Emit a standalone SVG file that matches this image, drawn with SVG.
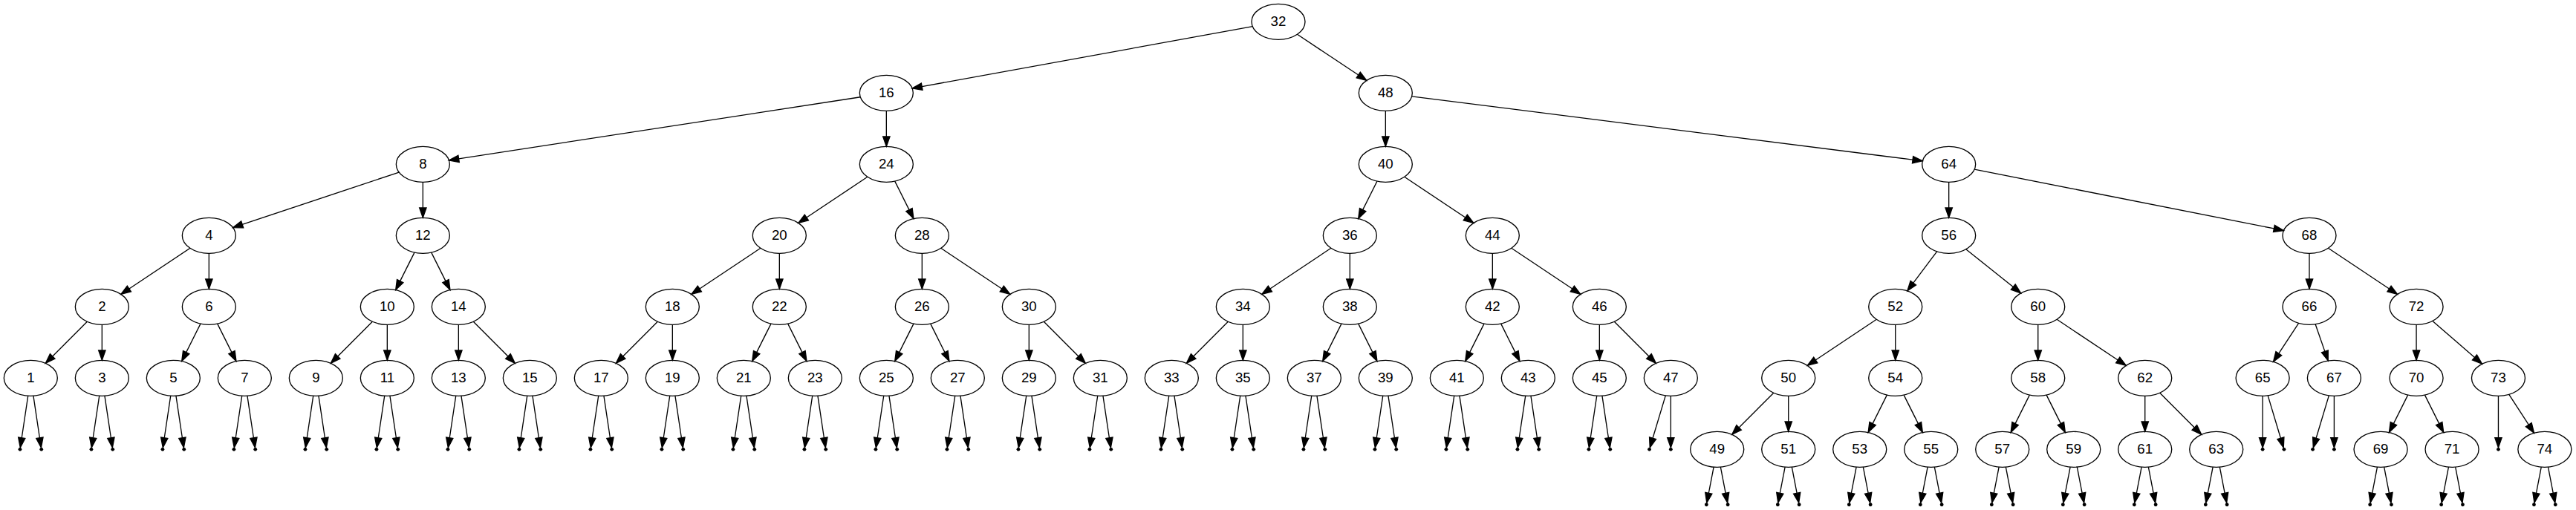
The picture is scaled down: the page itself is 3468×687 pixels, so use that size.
<svg xmlns="http://www.w3.org/2000/svg" width="3468" height="687" viewBox="0 0 3468 687">
<style>
.n ellipse{fill:none;stroke:#000;stroke-width:1}
.n text{font-family:"Liberation Sans",Arial,Helvetica,sans-serif;font-size:14px;text-anchor:middle;fill:#000}
.e{stroke:#000;stroke-width:1;fill:none;marker-end:url(#ah)}
.p circle{fill:#000;stroke:none}
</style>
<defs>
<marker id="ah" markerUnits="userSpaceOnUse" markerWidth="12" markerHeight="10" refX="0" refY="0" orient="auto" overflow="visible"><path d="M0,-3.5L10,0L0,3.5Z" fill="#000" stroke="#000" stroke-width="1"/></marker>
</defs>
<rect width="3468" height="687" fill="#fff"/>
<g transform="scale(1.333333)">
<g id="edges">
<line class="e" x1="1264.70" y1="26.74" x2="930.89" y2="87.47"/>
<line class="e" x1="1309.86" y1="34.71" x2="1371.56" y2="75.75"/>
<line class="e" x1="868.69" y1="98.05" x2="463.19" y2="160.43"/>
<line class="e" x1="895" y1="112" x2="895" y2="138"/>
<line class="e" x1="1399" y1="112" x2="1399" y2="138"/>
<line class="e" x1="1425.53" y1="97.36" x2="1931.30" y2="161.39"/>
<line class="e" x1="402.85" y1="174.05" x2="244.64" y2="226.79"/>
<line class="e" x1="427" y1="184" x2="427" y2="210"/>
<line class="e" x1="875.91" y1="178.73" x2="814.41" y2="219.73"/>
<line class="e" x1="903.54" y1="183.08" x2="917.99" y2="211.98"/>
<line class="e" x1="1390.46" y1="183.08" x2="1376.01" y2="211.98"/>
<line class="e" x1="1418.09" y1="178.73" x2="1479.59" y2="219.73"/>
<line class="e" x1="1967.75" y1="184" x2="1967.75" y2="210"/>
<line class="e" x1="1993.64" y1="171.12" x2="2296.06" y2="230.94"/>
<line class="e" x1="191.91" y1="250.73" x2="130.41" y2="291.73"/>
<line class="e" x1="211" y1="256" x2="211" y2="282"/>
<line class="e" x1="418.46" y1="255.08" x2="404.01" y2="283.98"/>
<line class="e" x1="435.54" y1="255.08" x2="449.99" y2="283.98"/>
<line class="e" x1="767.91" y1="250.73" x2="706.41" y2="291.73"/>
<line class="e" x1="787" y1="256" x2="787" y2="282"/>
<line class="e" x1="931" y1="256" x2="931" y2="282"/>
<line class="e" x1="950.09" y1="250.73" x2="1011.59" y2="291.73"/>
<line class="e" x1="1343.91" y1="250.73" x2="1282.41" y2="291.73"/>
<line class="e" x1="1363" y1="256" x2="1363" y2="282"/>
<line class="e" x1="1507" y1="256" x2="1507" y2="282"/>
<line class="e" x1="1526.09" y1="250.73" x2="1587.59" y2="291.73"/>
<line class="e" x1="1955.68" y1="254.10" x2="1931.86" y2="285.89"/>
<line class="e" x1="1985.04" y1="251.83" x2="2032.70" y2="289.93"/>
<line class="e" x1="2331.75" y1="256" x2="2331.75" y2="282"/>
<line class="e" x1="2350.85" y1="250.73" x2="2412.38" y2="291.73"/>
<line class="e" x1="88.02" y1="324.98" x2="53.05" y2="359.95"/>
<line class="e" x1="103" y1="328" x2="103" y2="354"/>
<line class="e" x1="202.46" y1="327.08" x2="188.01" y2="355.98"/>
<line class="e" x1="219.54" y1="327.08" x2="233.99" y2="355.98"/>
<line class="e" x1="376.02" y1="324.98" x2="341.05" y2="359.95"/>
<line class="e" x1="391" y1="328" x2="391" y2="354"/>
<line class="e" x1="463" y1="328" x2="463" y2="354"/>
<line class="e" x1="477.98" y1="324.98" x2="512.95" y2="359.95"/>
<line class="e" x1="664.02" y1="324.98" x2="629.05" y2="359.95"/>
<line class="e" x1="679" y1="328" x2="679" y2="354"/>
<line class="e" x1="778.46" y1="327.08" x2="764.01" y2="355.98"/>
<line class="e" x1="795.54" y1="327.08" x2="809.99" y2="355.98"/>
<line class="e" x1="922.46" y1="327.08" x2="908.01" y2="355.98"/>
<line class="e" x1="939.54" y1="327.08" x2="953.99" y2="355.98"/>
<line class="e" x1="1039" y1="328" x2="1039" y2="354"/>
<line class="e" x1="1053.98" y1="324.98" x2="1088.95" y2="359.95"/>
<line class="e" x1="1240.02" y1="324.98" x2="1205.05" y2="359.95"/>
<line class="e" x1="1255" y1="328" x2="1255" y2="354"/>
<line class="e" x1="1354.46" y1="327.08" x2="1340.01" y2="355.98"/>
<line class="e" x1="1371.54" y1="327.08" x2="1385.99" y2="355.98"/>
<line class="e" x1="1498.46" y1="327.08" x2="1484.01" y2="355.98"/>
<line class="e" x1="1515.54" y1="327.08" x2="1529.99" y2="355.98"/>
<line class="e" x1="1615" y1="328" x2="1615" y2="354"/>
<line class="e" x1="1629.98" y1="324.98" x2="1664.95" y2="359.95"/>
<line class="e" x1="1894.71" y1="322.73" x2="1833.21" y2="363.73"/>
<line class="e" x1="1913.8" y1="328" x2="1913.8" y2="354"/>
<line class="e" x1="2057.8" y1="328" x2="2057.8" y2="354"/>
<line class="e" x1="2076.89" y1="322.73" x2="2138.39" y2="363.73"/>
<line class="e" x1="2320.95" y1="326.50" x2="2300.88" y2="357.14"/>
<line class="e" x1="2337.85" y1="327.54" x2="2347.41" y2="355.02"/>
<line class="e" x1="2439.8" y1="328" x2="2439.8" y2="354"/>
<line class="e" x1="2456.23" y1="324.29" x2="2498.63" y2="361.15"/>
<line class="e" x1="1790.82" y1="396.98" x2="1755.85" y2="431.95"/>
<line class="e" x1="1805.8" y1="400" x2="1805.8" y2="426"/>
<line class="e" x1="1905.26" y1="399.08" x2="1890.81" y2="427.98"/>
<line class="e" x1="1922.34" y1="399.08" x2="1936.79" y2="427.98"/>
<line class="e" x1="2049.26" y1="399.08" x2="2034.81" y2="427.98"/>
<line class="e" x1="2066.34" y1="399.08" x2="2080.79" y2="427.98"/>
<line class="e" x1="2165.8" y1="400" x2="2165.8" y2="426"/>
<line class="e" x1="2180.78" y1="396.98" x2="2215.75" y2="431.95"/>
<line class="e" x1="2431.26" y1="399.08" x2="2416.81" y2="427.98"/>
<line class="e" x1="2448.34" y1="399.08" x2="2462.79" y2="427.98"/>
<line class="e" x1="2533.34" y1="398.52" x2="2553.22" y2="429.10"/>
<line class="e" x1="28.31" y1="399.91" x2="21.95" y2="442.33"/><line class="e" x1="33.69" y1="399.91" x2="40.05" y2="442.33"/>
<line class="e" x1="100.31" y1="399.91" x2="93.95" y2="442.33"/><line class="e" x1="105.69" y1="399.91" x2="112.05" y2="442.33"/>
<line class="e" x1="172.31" y1="399.91" x2="165.95" y2="442.33"/><line class="e" x1="177.69" y1="399.91" x2="184.05" y2="442.33"/>
<line class="e" x1="244.31" y1="399.91" x2="237.95" y2="442.33"/><line class="e" x1="249.69" y1="399.91" x2="256.05" y2="442.33"/>
<line class="e" x1="316.31" y1="399.91" x2="309.95" y2="442.33"/><line class="e" x1="321.69" y1="399.91" x2="328.05" y2="442.33"/>
<line class="e" x1="388.31" y1="399.91" x2="381.95" y2="442.33"/><line class="e" x1="393.69" y1="399.91" x2="400.05" y2="442.33"/>
<line class="e" x1="460.31" y1="399.91" x2="453.95" y2="442.33"/><line class="e" x1="465.69" y1="399.91" x2="472.05" y2="442.33"/>
<line class="e" x1="532.31" y1="399.91" x2="525.95" y2="442.33"/><line class="e" x1="537.69" y1="399.91" x2="544.05" y2="442.33"/>
<line class="e" x1="604.31" y1="399.91" x2="597.95" y2="442.33"/><line class="e" x1="609.69" y1="399.91" x2="616.05" y2="442.33"/>
<line class="e" x1="676.31" y1="399.91" x2="669.95" y2="442.33"/><line class="e" x1="681.69" y1="399.91" x2="688.05" y2="442.33"/>
<line class="e" x1="748.31" y1="399.91" x2="741.95" y2="442.33"/><line class="e" x1="753.69" y1="399.91" x2="760.05" y2="442.33"/>
<line class="e" x1="820.31" y1="399.91" x2="813.95" y2="442.33"/><line class="e" x1="825.69" y1="399.91" x2="832.05" y2="442.33"/>
<line class="e" x1="892.31" y1="399.91" x2="885.95" y2="442.33"/><line class="e" x1="897.69" y1="399.91" x2="904.05" y2="442.33"/>
<line class="e" x1="964.31" y1="399.91" x2="957.95" y2="442.33"/><line class="e" x1="969.69" y1="399.91" x2="976.05" y2="442.33"/>
<line class="e" x1="1036.31" y1="399.91" x2="1029.95" y2="442.33"/><line class="e" x1="1041.69" y1="399.91" x2="1048.05" y2="442.33"/>
<line class="e" x1="1108.31" y1="399.91" x2="1101.95" y2="442.33"/><line class="e" x1="1113.69" y1="399.91" x2="1120.05" y2="442.33"/>
<line class="e" x1="1180.31" y1="399.91" x2="1173.95" y2="442.33"/><line class="e" x1="1185.69" y1="399.91" x2="1192.05" y2="442.33"/>
<line class="e" x1="1252.31" y1="399.91" x2="1245.95" y2="442.33"/><line class="e" x1="1257.69" y1="399.91" x2="1264.05" y2="442.33"/>
<line class="e" x1="1324.31" y1="399.91" x2="1317.95" y2="442.33"/><line class="e" x1="1329.69" y1="399.91" x2="1336.05" y2="442.33"/>
<line class="e" x1="1396.31" y1="399.91" x2="1389.95" y2="442.33"/><line class="e" x1="1401.69" y1="399.91" x2="1408.05" y2="442.33"/>
<line class="e" x1="1468.31" y1="399.91" x2="1461.95" y2="442.33"/><line class="e" x1="1473.69" y1="399.91" x2="1480.05" y2="442.33"/>
<line class="e" x1="1540.31" y1="399.91" x2="1533.95" y2="442.33"/><line class="e" x1="1545.69" y1="399.91" x2="1552.05" y2="442.33"/>
<line class="e" x1="1612.31" y1="399.91" x2="1605.95" y2="442.33"/><line class="e" x1="1617.69" y1="399.91" x2="1624.05" y2="442.33"/>
<line class="e" x1="1681.71" y1="399.65" x2="1668.79" y2="442.70"/><line class="e" x1="1687" y1="400" x2="1687" y2="442.2"/>
<line class="e" x1="2284.6" y1="400" x2="2284.6" y2="442.2"/><line class="e" x1="2289.90" y1="399.65" x2="2302.81" y2="442.70"/>
<line class="e" x1="2351.51" y1="399.65" x2="2338.59" y2="442.70"/><line class="e" x1="2356.8" y1="400" x2="2356.8" y2="442.2"/>
<line class="e" x1="2522.6" y1="400" x2="2522.6" y2="442.2"/>
<line class="e" x1="1730.35" y1="471.85" x2="1725.24" y2="498.22"/><line class="e" x1="1737.26" y1="471.85" x2="1742.36" y2="498.22"/>
<line class="e" x1="1802.35" y1="471.85" x2="1797.24" y2="498.22"/><line class="e" x1="1809.26" y1="471.85" x2="1814.36" y2="498.22"/>
<line class="e" x1="1874.35" y1="471.85" x2="1869.24" y2="498.22"/><line class="e" x1="1881.26" y1="471.85" x2="1886.36" y2="498.22"/>
<line class="e" x1="1946.35" y1="471.85" x2="1941.24" y2="498.22"/><line class="e" x1="1953.26" y1="471.85" x2="1958.36" y2="498.22"/>
<line class="e" x1="2018.35" y1="471.85" x2="2013.24" y2="498.22"/><line class="e" x1="2025.26" y1="471.85" x2="2030.36" y2="498.22"/>
<line class="e" x1="2090.35" y1="471.85" x2="2085.24" y2="498.22"/><line class="e" x1="2097.26" y1="471.85" x2="2102.36" y2="498.22"/>
<line class="e" x1="2162.35" y1="471.85" x2="2157.24" y2="498.22"/><line class="e" x1="2169.26" y1="471.85" x2="2174.36" y2="498.22"/>
<line class="e" x1="2234.35" y1="471.85" x2="2229.24" y2="498.22"/><line class="e" x1="2241.26" y1="471.85" x2="2246.36" y2="498.22"/>
<line class="e" x1="2400.35" y1="471.85" x2="2395.24" y2="498.22"/><line class="e" x1="2407.26" y1="471.85" x2="2412.36" y2="498.22"/>
<line class="e" x1="2472.35" y1="471.85" x2="2467.24" y2="498.22"/><line class="e" x1="2479.26" y1="471.85" x2="2484.36" y2="498.22"/>
<line class="e" x1="2565.95" y1="471.85" x2="2560.84" y2="498.22"/><line class="e" x1="2572.86" y1="471.85" x2="2577.96" y2="498.22"/>
</g>
<g id="n32" class="n"><ellipse cx="1290.75" cy="22" rx="27" ry="18"/><text x="1290.75" y="26.2">32</text></g>
<g id="n16" class="n"><ellipse cx="895" cy="94" rx="27" ry="18"/><text x="895" y="98.2">16</text></g>
<g id="n48" class="n"><ellipse cx="1399" cy="94" rx="27" ry="18"/><text x="1399" y="98.2">48</text></g>
<g id="n8" class="n"><ellipse cx="427" cy="166" rx="27" ry="18"/><text x="427" y="170.2">8</text></g>
<g id="n24" class="n"><ellipse cx="895" cy="166" rx="27" ry="18"/><text x="895" y="170.2">24</text></g>
<g id="n40" class="n"><ellipse cx="1399" cy="166" rx="27" ry="18"/><text x="1399" y="170.2">40</text></g>
<g id="n64" class="n"><ellipse cx="1967.75" cy="166" rx="27" ry="18"/><text x="1967.75" y="170.2">64</text></g>
<g id="n4" class="n"><ellipse cx="211" cy="238" rx="27" ry="18"/><text x="211" y="242.2">4</text></g>
<g id="n12" class="n"><ellipse cx="427" cy="238" rx="27" ry="18"/><text x="427" y="242.2">12</text></g>
<g id="n20" class="n"><ellipse cx="787" cy="238" rx="27" ry="18"/><text x="787" y="242.2">20</text></g>
<g id="n28" class="n"><ellipse cx="931" cy="238" rx="27" ry="18"/><text x="931" y="242.2">28</text></g>
<g id="n36" class="n"><ellipse cx="1363" cy="238" rx="27" ry="18"/><text x="1363" y="242.2">36</text></g>
<g id="n44" class="n"><ellipse cx="1507" cy="238" rx="27" ry="18"/><text x="1507" y="242.2">44</text></g>
<g id="n56" class="n"><ellipse cx="1967.75" cy="238" rx="27" ry="18"/><text x="1967.75" y="242.2">56</text></g>
<g id="n68" class="n"><ellipse cx="2331.75" cy="238" rx="27" ry="18"/><text x="2331.75" y="242.2">68</text></g>
<g id="n2" class="n"><ellipse cx="103" cy="310" rx="27" ry="18"/><text x="103" y="314.2">2</text></g>
<g id="n6" class="n"><ellipse cx="211" cy="310" rx="27" ry="18"/><text x="211" y="314.2">6</text></g>
<g id="n10" class="n"><ellipse cx="391" cy="310" rx="27" ry="18"/><text x="391" y="314.2">10</text></g>
<g id="n14" class="n"><ellipse cx="463" cy="310" rx="27" ry="18"/><text x="463" y="314.2">14</text></g>
<g id="n18" class="n"><ellipse cx="679" cy="310" rx="27" ry="18"/><text x="679" y="314.2">18</text></g>
<g id="n22" class="n"><ellipse cx="787" cy="310" rx="27" ry="18"/><text x="787" y="314.2">22</text></g>
<g id="n26" class="n"><ellipse cx="931" cy="310" rx="27" ry="18"/><text x="931" y="314.2">26</text></g>
<g id="n30" class="n"><ellipse cx="1039" cy="310" rx="27" ry="18"/><text x="1039" y="314.2">30</text></g>
<g id="n34" class="n"><ellipse cx="1255" cy="310" rx="27" ry="18"/><text x="1255" y="314.2">34</text></g>
<g id="n38" class="n"><ellipse cx="1363" cy="310" rx="27" ry="18"/><text x="1363" y="314.2">38</text></g>
<g id="n42" class="n"><ellipse cx="1507" cy="310" rx="27" ry="18"/><text x="1507" y="314.2">42</text></g>
<g id="n46" class="n"><ellipse cx="1615" cy="310" rx="27" ry="18"/><text x="1615" y="314.2">46</text></g>
<g id="n52" class="n"><ellipse cx="1913.8" cy="310" rx="27" ry="18"/><text x="1913.8" y="314.2">52</text></g>
<g id="n60" class="n"><ellipse cx="2057.8" cy="310" rx="27" ry="18"/><text x="2057.8" y="314.2">60</text></g>
<g id="n66" class="n"><ellipse cx="2331.75" cy="310" rx="27" ry="18"/><text x="2331.75" y="314.2">66</text></g>
<g id="n72" class="n"><ellipse cx="2439.8" cy="310" rx="27" ry="18"/><text x="2439.8" y="314.2">72</text></g>
<g id="n1" class="n"><ellipse cx="31" cy="382" rx="27" ry="18"/><text x="31" y="386.2">1</text></g>
<g id="n3" class="n"><ellipse cx="103" cy="382" rx="27" ry="18"/><text x="103" y="386.2">3</text></g>
<g id="n5" class="n"><ellipse cx="175" cy="382" rx="27" ry="18"/><text x="175" y="386.2">5</text></g>
<g id="n7" class="n"><ellipse cx="247" cy="382" rx="27" ry="18"/><text x="247" y="386.2">7</text></g>
<g id="n9" class="n"><ellipse cx="319" cy="382" rx="27" ry="18"/><text x="319" y="386.2">9</text></g>
<g id="n11" class="n"><ellipse cx="391" cy="382" rx="27" ry="18"/><text x="391" y="386.2">11</text></g>
<g id="n13" class="n"><ellipse cx="463" cy="382" rx="27" ry="18"/><text x="463" y="386.2">13</text></g>
<g id="n15" class="n"><ellipse cx="535" cy="382" rx="27" ry="18"/><text x="535" y="386.2">15</text></g>
<g id="n17" class="n"><ellipse cx="607" cy="382" rx="27" ry="18"/><text x="607" y="386.2">17</text></g>
<g id="n19" class="n"><ellipse cx="679" cy="382" rx="27" ry="18"/><text x="679" y="386.2">19</text></g>
<g id="n21" class="n"><ellipse cx="751" cy="382" rx="27" ry="18"/><text x="751" y="386.2">21</text></g>
<g id="n23" class="n"><ellipse cx="823" cy="382" rx="27" ry="18"/><text x="823" y="386.2">23</text></g>
<g id="n25" class="n"><ellipse cx="895" cy="382" rx="27" ry="18"/><text x="895" y="386.2">25</text></g>
<g id="n27" class="n"><ellipse cx="967" cy="382" rx="27" ry="18"/><text x="967" y="386.2">27</text></g>
<g id="n29" class="n"><ellipse cx="1039" cy="382" rx="27" ry="18"/><text x="1039" y="386.2">29</text></g>
<g id="n31" class="n"><ellipse cx="1111" cy="382" rx="27" ry="18"/><text x="1111" y="386.2">31</text></g>
<g id="n33" class="n"><ellipse cx="1183" cy="382" rx="27" ry="18"/><text x="1183" y="386.2">33</text></g>
<g id="n35" class="n"><ellipse cx="1255" cy="382" rx="27" ry="18"/><text x="1255" y="386.2">35</text></g>
<g id="n37" class="n"><ellipse cx="1327" cy="382" rx="27" ry="18"/><text x="1327" y="386.2">37</text></g>
<g id="n39" class="n"><ellipse cx="1399" cy="382" rx="27" ry="18"/><text x="1399" y="386.2">39</text></g>
<g id="n41" class="n"><ellipse cx="1471" cy="382" rx="27" ry="18"/><text x="1471" y="386.2">41</text></g>
<g id="n43" class="n"><ellipse cx="1543" cy="382" rx="27" ry="18"/><text x="1543" y="386.2">43</text></g>
<g id="n45" class="n"><ellipse cx="1615" cy="382" rx="27" ry="18"/><text x="1615" y="386.2">45</text></g>
<g id="n47" class="n"><ellipse cx="1687" cy="382" rx="27" ry="18"/><text x="1687" y="386.2">47</text></g>
<g id="n50" class="n"><ellipse cx="1805.8" cy="382" rx="27" ry="18"/><text x="1805.8" y="386.2">50</text></g>
<g id="n54" class="n"><ellipse cx="1913.8" cy="382" rx="27" ry="18"/><text x="1913.8" y="386.2">54</text></g>
<g id="n58" class="n"><ellipse cx="2057.8" cy="382" rx="27" ry="18"/><text x="2057.8" y="386.2">58</text></g>
<g id="n62" class="n"><ellipse cx="2165.8" cy="382" rx="27" ry="18"/><text x="2165.8" y="386.2">62</text></g>
<g id="n65" class="n"><ellipse cx="2284.6" cy="382" rx="27" ry="18"/><text x="2284.6" y="386.2">65</text></g>
<g id="n67" class="n"><ellipse cx="2356.8" cy="382" rx="27" ry="18"/><text x="2356.8" y="386.2">67</text></g>
<g id="n70" class="n"><ellipse cx="2439.8" cy="382" rx="27" ry="18"/><text x="2439.8" y="386.2">70</text></g>
<g id="n73" class="n"><ellipse cx="2522.6" cy="382" rx="27" ry="18"/><text x="2522.6" y="386.2">73</text></g>
<g id="n49" class="n"><ellipse cx="1733.8" cy="454" rx="27" ry="18"/><text x="1733.8" y="458.2">49</text></g>
<g id="n51" class="n"><ellipse cx="1805.8" cy="454" rx="27" ry="18"/><text x="1805.8" y="458.2">51</text></g>
<g id="n53" class="n"><ellipse cx="1877.8" cy="454" rx="27" ry="18"/><text x="1877.8" y="458.2">53</text></g>
<g id="n55" class="n"><ellipse cx="1949.8" cy="454" rx="27" ry="18"/><text x="1949.8" y="458.2">55</text></g>
<g id="n57" class="n"><ellipse cx="2021.8" cy="454" rx="27" ry="18"/><text x="2021.8" y="458.2">57</text></g>
<g id="n59" class="n"><ellipse cx="2093.8" cy="454" rx="27" ry="18"/><text x="2093.8" y="458.2">59</text></g>
<g id="n61" class="n"><ellipse cx="2165.8" cy="454" rx="27" ry="18"/><text x="2165.8" y="458.2">61</text></g>
<g id="n63" class="n"><ellipse cx="2237.8" cy="454" rx="27" ry="18"/><text x="2237.8" y="458.2">63</text></g>
<g id="n69" class="n"><ellipse cx="2403.8" cy="454" rx="27" ry="18"/><text x="2403.8" y="458.2">69</text></g>
<g id="n71" class="n"><ellipse cx="2475.8" cy="454" rx="27" ry="18"/><text x="2475.8" y="458.2">71</text></g>
<g id="n74" class="n"><ellipse cx="2569.4" cy="454" rx="27" ry="18"/><text x="2569.4" y="458.2">74</text></g>
<g id="null1a" class="p"><circle cx="20.2" cy="454" r="1.8"/></g><g id="null1b" class="p"><circle cx="41.8" cy="454" r="1.8"/></g>
<g id="null3a" class="p"><circle cx="92.2" cy="454" r="1.8"/></g><g id="null3b" class="p"><circle cx="113.8" cy="454" r="1.8"/></g>
<g id="null5a" class="p"><circle cx="164.2" cy="454" r="1.8"/></g><g id="null5b" class="p"><circle cx="185.8" cy="454" r="1.8"/></g>
<g id="null7a" class="p"><circle cx="236.2" cy="454" r="1.8"/></g><g id="null7b" class="p"><circle cx="257.8" cy="454" r="1.8"/></g>
<g id="null9a" class="p"><circle cx="308.2" cy="454" r="1.8"/></g><g id="null9b" class="p"><circle cx="329.8" cy="454" r="1.8"/></g>
<g id="null11a" class="p"><circle cx="380.2" cy="454" r="1.8"/></g><g id="null11b" class="p"><circle cx="401.8" cy="454" r="1.8"/></g>
<g id="null13a" class="p"><circle cx="452.2" cy="454" r="1.8"/></g><g id="null13b" class="p"><circle cx="473.8" cy="454" r="1.8"/></g>
<g id="null15a" class="p"><circle cx="524.2" cy="454" r="1.8"/></g><g id="null15b" class="p"><circle cx="545.8" cy="454" r="1.8"/></g>
<g id="null17a" class="p"><circle cx="596.2" cy="454" r="1.8"/></g><g id="null17b" class="p"><circle cx="617.8" cy="454" r="1.8"/></g>
<g id="null19a" class="p"><circle cx="668.2" cy="454" r="1.8"/></g><g id="null19b" class="p"><circle cx="689.8" cy="454" r="1.8"/></g>
<g id="null21a" class="p"><circle cx="740.2" cy="454" r="1.8"/></g><g id="null21b" class="p"><circle cx="761.8" cy="454" r="1.8"/></g>
<g id="null23a" class="p"><circle cx="812.2" cy="454" r="1.8"/></g><g id="null23b" class="p"><circle cx="833.8" cy="454" r="1.8"/></g>
<g id="null25a" class="p"><circle cx="884.2" cy="454" r="1.8"/></g><g id="null25b" class="p"><circle cx="905.8" cy="454" r="1.8"/></g>
<g id="null27a" class="p"><circle cx="956.2" cy="454" r="1.8"/></g><g id="null27b" class="p"><circle cx="977.8" cy="454" r="1.8"/></g>
<g id="null29a" class="p"><circle cx="1028.2" cy="454" r="1.8"/></g><g id="null29b" class="p"><circle cx="1049.8" cy="454" r="1.8"/></g>
<g id="null31a" class="p"><circle cx="1100.2" cy="454" r="1.8"/></g><g id="null31b" class="p"><circle cx="1121.8" cy="454" r="1.8"/></g>
<g id="null33a" class="p"><circle cx="1172.2" cy="454" r="1.8"/></g><g id="null33b" class="p"><circle cx="1193.8" cy="454" r="1.8"/></g>
<g id="null35a" class="p"><circle cx="1244.2" cy="454" r="1.8"/></g><g id="null35b" class="p"><circle cx="1265.8" cy="454" r="1.8"/></g>
<g id="null37a" class="p"><circle cx="1316.2" cy="454" r="1.8"/></g><g id="null37b" class="p"><circle cx="1337.8" cy="454" r="1.8"/></g>
<g id="null39a" class="p"><circle cx="1388.2" cy="454" r="1.8"/></g><g id="null39b" class="p"><circle cx="1409.8" cy="454" r="1.8"/></g>
<g id="null41a" class="p"><circle cx="1460.2" cy="454" r="1.8"/></g><g id="null41b" class="p"><circle cx="1481.8" cy="454" r="1.8"/></g>
<g id="null43a" class="p"><circle cx="1532.2" cy="454" r="1.8"/></g><g id="null43b" class="p"><circle cx="1553.8" cy="454" r="1.8"/></g>
<g id="null45a" class="p"><circle cx="1604.2" cy="454" r="1.8"/></g><g id="null45b" class="p"><circle cx="1625.8" cy="454" r="1.8"/></g>
<g id="null47a" class="p"><circle cx="1665.4" cy="454" r="1.8"/></g><g id="null47b" class="p"><circle cx="1687" cy="454" r="1.8"/></g>
<g id="null65a" class="p"><circle cx="2284.6" cy="454" r="1.8"/></g><g id="null65b" class="p"><circle cx="2306.2" cy="454" r="1.8"/></g>
<g id="null67a" class="p"><circle cx="2335.2" cy="454" r="1.8"/></g><g id="null67b" class="p"><circle cx="2356.8" cy="454" r="1.8"/></g>
<g id="null73a" class="p"><circle cx="2522.6" cy="454" r="1.8"/></g>
<g id="null49a" class="p"><circle cx="1723" cy="509.8" r="1.8"/></g><g id="null49b" class="p"><circle cx="1744.6" cy="509.8" r="1.8"/></g>
<g id="null51a" class="p"><circle cx="1795" cy="509.8" r="1.8"/></g><g id="null51b" class="p"><circle cx="1816.6" cy="509.8" r="1.8"/></g>
<g id="null53a" class="p"><circle cx="1867" cy="509.8" r="1.8"/></g><g id="null53b" class="p"><circle cx="1888.6" cy="509.8" r="1.8"/></g>
<g id="null55a" class="p"><circle cx="1939" cy="509.8" r="1.8"/></g><g id="null55b" class="p"><circle cx="1960.6" cy="509.8" r="1.8"/></g>
<g id="null57a" class="p"><circle cx="2011" cy="509.8" r="1.8"/></g><g id="null57b" class="p"><circle cx="2032.6" cy="509.8" r="1.8"/></g>
<g id="null59a" class="p"><circle cx="2083" cy="509.8" r="1.8"/></g><g id="null59b" class="p"><circle cx="2104.6" cy="509.8" r="1.8"/></g>
<g id="null61a" class="p"><circle cx="2155" cy="509.8" r="1.8"/></g><g id="null61b" class="p"><circle cx="2176.6" cy="509.8" r="1.8"/></g>
<g id="null63a" class="p"><circle cx="2227" cy="509.8" r="1.8"/></g><g id="null63b" class="p"><circle cx="2248.6" cy="509.8" r="1.8"/></g>
<g id="null69a" class="p"><circle cx="2393" cy="509.8" r="1.8"/></g><g id="null69b" class="p"><circle cx="2414.6" cy="509.8" r="1.8"/></g>
<g id="null71a" class="p"><circle cx="2465" cy="509.8" r="1.8"/></g><g id="null71b" class="p"><circle cx="2486.6" cy="509.8" r="1.8"/></g>
<g id="null74a" class="p"><circle cx="2558.6" cy="509.8" r="1.8"/></g><g id="null74b" class="p"><circle cx="2580.2" cy="509.8" r="1.8"/></g>
</g>
</svg>
